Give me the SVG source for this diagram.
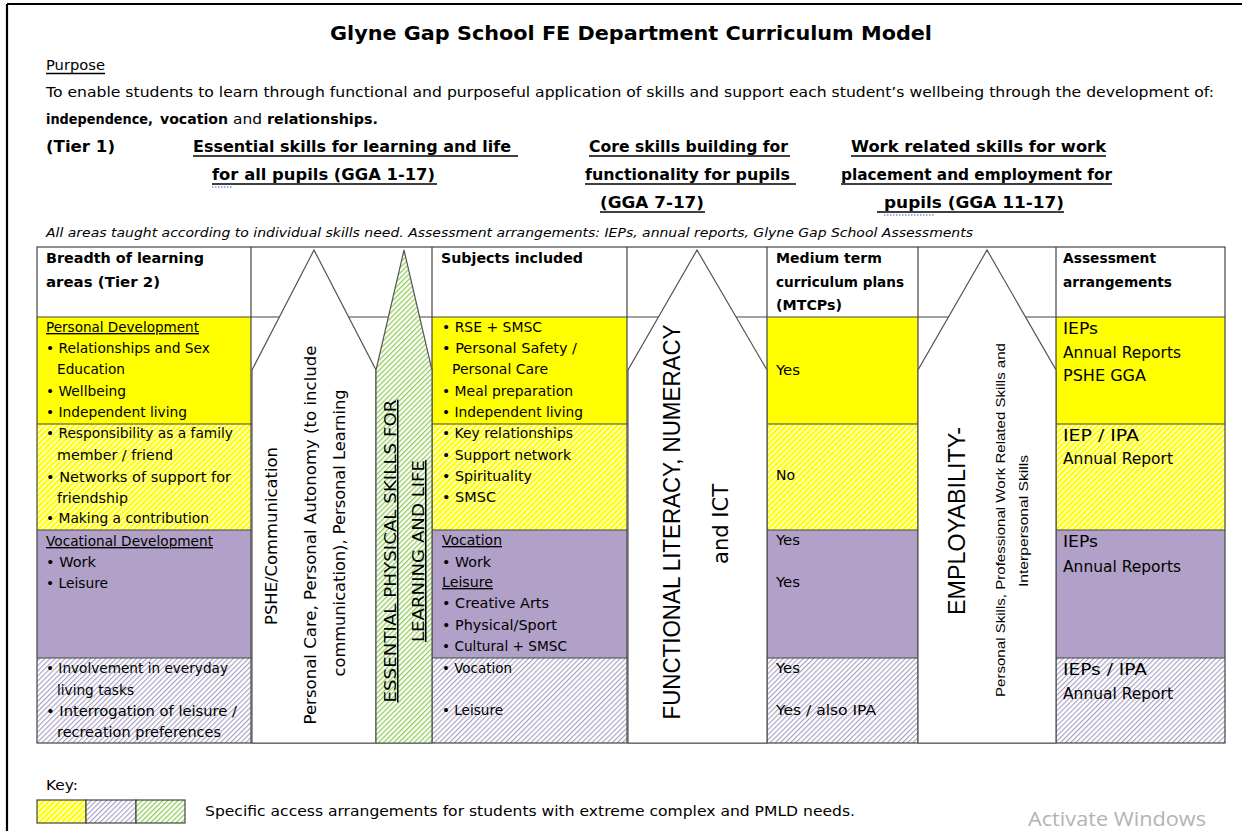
<svg xmlns="http://www.w3.org/2000/svg" width="1242" height="831" viewBox="0 0 1242 831">
<style>
text{font-family:"DejaVu Sans","Noto Sans",sans-serif;fill:#000}
.t{font-size:20px;font-weight:bold}
.p{font-size:14.5px}
.pb{font-size:14.5px;font-weight:bold}
.h{font-size:15px;font-weight:bold}
.s{font-size:12.5px;font-style:italic}
.hd{font-size:14px;font-weight:bold}
.c{font-size:13.5px}
.y{font-size:13.5px}
.a{font-size:15.5px}
.u{text-decoration:underline}
.v{font-size:15px}
.w{font-family:"Liberation Sans","Open Sans",sans-serif}
.grid{stroke:#444;stroke-width:1.2;fill:none}
.arrow{stroke:#555;stroke-width:1.2}
.ul{stroke:#000;stroke-width:1.4}
.sq{stroke:#3f57d6;stroke-width:1.2;stroke-dasharray:1.5 1.5}
</style>
<defs>
<pattern id="hY" width="4" height="4" patternUnits="userSpaceOnUse" patternTransform="rotate(45)"><rect width="4" height="4" fill="#fff"/><rect width="2.5" height="4" fill="#ffff00"/></pattern>
<pattern id="hL" width="3.6" height="3.6" patternUnits="userSpaceOnUse" patternTransform="rotate(45)"><rect width="3.6" height="3.6" fill="#fff"/><rect width="1.1" height="3.6" fill="#a69dc2"/></pattern>
<pattern id="hG" width="3.6" height="3.6" patternUnits="userSpaceOnUse" patternTransform="rotate(45)"><rect width="3.6" height="3.6" fill="#fff"/><rect width="1.3" height="3.6" fill="#93cf5c"/></pattern>
</defs>

<!-- page frame -->
<g id="frame">
<line x1="7" y1="4" x2="1242" y2="4" stroke="#000" stroke-width="2.2"/>
<line x1="7" y1="4" x2="7" y2="831" stroke="#000" stroke-width="2.2"/>
</g>

<g id="title">
<text class="t" x="330" y="40" textLength="602" lengthAdjust="spacingAndGlyphs">Glyne Gap School FE Department Curriculum Model</text>
</g>

<g id="purpose">
<text class="p" x="46" y="70" textLength="59" lengthAdjust="spacingAndGlyphs">Purpose</text>
<line class="ul" x1="46" y1="73.5" x2="105" y2="73.5" stroke-width="1"/>
<text class="p" x="46" y="97" textLength="1168" lengthAdjust="spacingAndGlyphs">To enable students to learn through functional and purposeful application of skills and support each student’s wellbeing through the development of:</text>
<text class="pb" x="46" y="124" textLength="107" lengthAdjust="spacingAndGlyphs">independence,</text>
<text class="pb" x="160" y="124" textLength="68" lengthAdjust="spacingAndGlyphs">vocation</text>
<text class="p" x="233" y="124" textLength="29" lengthAdjust="spacingAndGlyphs">and</text>
<text class="pb" x="267" y="124" textLength="111" lengthAdjust="spacingAndGlyphs">relationships.</text>
</g>

<g id="tier1">
<text class="h" x="46" y="152" textLength="69" lengthAdjust="spacingAndGlyphs">(Tier 1)</text>
<text class="h" x="193" y="152" textLength="318" lengthAdjust="spacingAndGlyphs">Essential skills for learning and life</text>
<line class="ul" x1="193" y1="156" x2="518" y2="156"/>
<text class="h" x="212" y="180" textLength="223" lengthAdjust="spacingAndGlyphs">for all pupils (GGA 1-17)</text>
<line class="ul" x1="212" y1="184" x2="437" y2="184"/>
<line class="sq" x1="212" y1="187" x2="232" y2="187"/>
<text class="h" x="589" y="152" textLength="199" lengthAdjust="spacingAndGlyphs">Core skills building for</text>
<line class="ul" x1="589" y1="156" x2="790" y2="156"/>
<text class="h" x="585" y="180" textLength="205" lengthAdjust="spacingAndGlyphs">functionality for pupils</text>
<line class="ul" x1="585" y1="184" x2="796" y2="184"/>
<text class="h" x="600" y="208" textLength="104" lengthAdjust="spacingAndGlyphs">(GGA 7-17)</text>
<line class="ul" x1="600" y1="212" x2="705" y2="212"/>
<text class="h" x="851" y="152" textLength="255" lengthAdjust="spacingAndGlyphs">Work related skills for work</text>
<line class="ul" x1="851" y1="156" x2="1106" y2="156"/>
<text class="h" x="841" y="180" textLength="271" lengthAdjust="spacingAndGlyphs">placement and employment for</text>
<line class="ul" x1="841" y1="184" x2="1112" y2="184"/>
<text class="h" x="884" y="208" textLength="180" lengthAdjust="spacingAndGlyphs">pupils  (GGA 11-17)</text>
<line class="ul" x1="877" y1="212" x2="1064" y2="212"/>
<line class="sq" x1="884" y1="215" x2="934" y2="215"/>
<text class="s" x="46" y="237" textLength="927" lengthAdjust="spacingAndGlyphs">All areas taught according to individual skills need. Assessment arrangements: IEPs, annual reports, Glyne Gap School Assessments</text>
</g>

<!-- cell backgrounds -->
<g id="cells">
<rect x="37" y="317" width="214" height="107" fill="#ffff00"/>
<rect x="37" y="424" width="214" height="106" fill="url(#hY)"/>
<rect x="37" y="530" width="214" height="128" fill="#b1a0c7"/>
<rect x="37" y="658" width="214" height="85" fill="url(#hL)"/>
<rect x="432" y="317" width="195" height="107" fill="#ffff00"/>
<rect x="432" y="424" width="195" height="106" fill="url(#hY)"/>
<rect x="432" y="530" width="195" height="128" fill="#b1a0c7"/>
<rect x="432" y="658" width="195" height="85" fill="url(#hL)"/>
<rect x="767" y="317" width="151" height="107" fill="#ffff00"/>
<rect x="767" y="424" width="151" height="106" fill="url(#hY)"/>
<rect x="767" y="530" width="151" height="128" fill="#b1a0c7"/>
<rect x="767" y="658" width="151" height="85" fill="url(#hL)"/>
<rect x="1056" y="317" width="169" height="107" fill="#ffff00"/>
<rect x="1056" y="424" width="169" height="106" fill="url(#hY)"/>
<rect x="1056" y="530" width="169" height="128" fill="#b1a0c7"/>
<rect x="1056" y="658" width="169" height="85" fill="url(#hL)"/>
</g>

<g id="grid">
<rect class="grid" x="37" y="247" width="1188" height="496" stroke-width="1.6"/>
<path class="grid" d="M37 317H1225M37 424H1225M37 530H1225M37 658H1225M251 247V743M432 247V743M627 247V743M767 247V743M918 247V743M1056 247V743"/>
</g>

<!-- arrows -->
<g id="arrow-pshe">
<polygon class="arrow" points="252,743 252,370 314,250 376,370 376,743" fill="#fff"/>
<text class="a" transform="translate(277,536) rotate(-90)" text-anchor="middle" textLength="178" lengthAdjust="spacingAndGlyphs">PSHE/Communication</text>
<text class="a" transform="translate(316,535) rotate(-90)" text-anchor="middle" textLength="379" lengthAdjust="spacingAndGlyphs">Personal Care, Personal Autonomy (to include</text>
<text class="a" transform="translate(345,533) rotate(-90)" text-anchor="middle" textLength="287" lengthAdjust="spacingAndGlyphs">communication), Personal Learning</text>
</g>
<g id="arrow-physical">
<polygon class="arrow" points="376,743 376,370 404,250 432,370 432,743" fill="url(#hG)"/>
<text class="v u" transform="translate(396,551) rotate(-90)" text-anchor="middle" textLength="303" lengthAdjust="spacingAndGlyphs">ESSENTIAL PHYSICAL SKILLS FOR</text>
<text class="v u" transform="translate(424,551) rotate(-90)" text-anchor="middle" textLength="182" lengthAdjust="spacingAndGlyphs">LEARNING AND LIFE</text>
</g>
<g id="arrow-functional">
<polygon class="arrow" points="628,743 628,370 697,250 767,370 767,743" fill="#fff"/>
<text class="w" font-size="24" transform="translate(680,522) rotate(-90)" text-anchor="middle" textLength="395" lengthAdjust="spacingAndGlyphs">FUNCTIONAL LITERACY, NUMERACY</text>
<text font-size="22" transform="translate(728,524) rotate(-90)" text-anchor="middle" textLength="80" lengthAdjust="spacingAndGlyphs">and ICT</text>
</g>
<g id="arrow-employability">
<polygon class="arrow" points="918,743 918,370 987,250 1056,370 1056,743" fill="#fff"/>
<text class="w" font-size="24" transform="translate(965,521) rotate(-90)" text-anchor="middle" textLength="188" lengthAdjust="spacingAndGlyphs">EMPLOYABILITY-</text>
<text class="w" font-size="13.5" transform="translate(1005,520) rotate(-90)" text-anchor="middle" textLength="354" lengthAdjust="spacingAndGlyphs">Personal Skills, Professional Work Related Skills and</text>
<text class="w" font-size="13.5" transform="translate(1028,521) rotate(-90)" text-anchor="middle" textLength="132" lengthAdjust="spacingAndGlyphs">Interpersonal Skills</text>
</g>

<!-- column 1 -->
<g id="col-breadth">
<text class="hd" x="46" y="263" textLength="158" lengthAdjust="spacingAndGlyphs">Breadth of learning</text>
<text class="hd" x="46" y="287" textLength="114" lengthAdjust="spacingAndGlyphs">areas (Tier 2)</text>
<text class="c u" x="46" y="332" textLength="153" lengthAdjust="spacingAndGlyphs">Personal Development</text>
<text class="c" x="46" y="353" textLength="164" lengthAdjust="spacingAndGlyphs">• Relationships and Sex</text>
<text class="c" x="57" y="374" textLength="68" lengthAdjust="spacingAndGlyphs">Education</text>
<text class="c" x="46" y="396" textLength="80" lengthAdjust="spacingAndGlyphs">• Wellbeing</text>
<text class="c" x="46" y="417" textLength="141" lengthAdjust="spacingAndGlyphs">• Independent living</text>
<text class="c" x="46" y="438" textLength="187" lengthAdjust="spacingAndGlyphs">• Responsibility as a family</text>
<text class="c" x="57" y="460" textLength="116" lengthAdjust="spacingAndGlyphs">member / friend</text>
<text class="c" x="46" y="482" textLength="185" lengthAdjust="spacingAndGlyphs">• Networks of support for</text>
<text class="c" x="57" y="503" textLength="71" lengthAdjust="spacingAndGlyphs">friendship</text>
<text class="c" x="46" y="523" textLength="163" lengthAdjust="spacingAndGlyphs">• Making a contribution</text>
<text class="c u" x="46" y="546" textLength="167" lengthAdjust="spacingAndGlyphs">Vocational Development</text>
<text class="c" x="46" y="567" textLength="50" lengthAdjust="spacingAndGlyphs">• Work</text>
<text class="c" x="46" y="588" textLength="62" lengthAdjust="spacingAndGlyphs">• Leisure</text>
<text class="c" x="46" y="673" textLength="182" lengthAdjust="spacingAndGlyphs">• Involvement in everyday</text>
<text class="c" x="57" y="695" textLength="77" lengthAdjust="spacingAndGlyphs">living tasks</text>
<text class="c" x="46" y="716" textLength="191" lengthAdjust="spacingAndGlyphs">• Interrogation of leisure /</text>
<text class="c" x="57" y="737" textLength="164" lengthAdjust="spacingAndGlyphs">recreation preferences</text>
</g>

<!-- column 3 -->
<g id="col-subjects">
<text class="hd" x="441" y="263" textLength="142" lengthAdjust="spacingAndGlyphs">Subjects included</text>
<text class="c" x="442" y="332" textLength="100" lengthAdjust="spacingAndGlyphs">• RSE + SMSC</text>
<text class="c" x="442" y="353" textLength="135" lengthAdjust="spacingAndGlyphs">• Personal Safety /</text>
<text class="c" x="452" y="374" textLength="96" lengthAdjust="spacingAndGlyphs">Personal Care</text>
<text class="c" x="442" y="396" textLength="131" lengthAdjust="spacingAndGlyphs">• Meal preparation</text>
<text class="c" x="442" y="417" textLength="141" lengthAdjust="spacingAndGlyphs">• Independent living</text>
<text class="c" x="442" y="438" textLength="131" lengthAdjust="spacingAndGlyphs">• Key relationships</text>
<text class="c" x="442" y="460" textLength="129" lengthAdjust="spacingAndGlyphs">• Support network</text>
<text class="c" x="442" y="481" textLength="90" lengthAdjust="spacingAndGlyphs">• Spirituality</text>
<text class="c" x="442" y="502" textLength="54" lengthAdjust="spacingAndGlyphs">• SMSC</text>
<text class="c u" x="442" y="545" textLength="60" lengthAdjust="spacingAndGlyphs">Vocation</text>
<text class="c" x="442" y="567" textLength="49" lengthAdjust="spacingAndGlyphs">• Work</text>
<text class="c u" x="442" y="587" textLength="51" lengthAdjust="spacingAndGlyphs">Leisure</text>
<text class="c" x="442" y="608" textLength="107" lengthAdjust="spacingAndGlyphs">• Creative Arts</text>
<text class="c" x="442" y="630" textLength="115" lengthAdjust="spacingAndGlyphs">• Physical/Sport</text>
<text class="c" x="442" y="651" textLength="125" lengthAdjust="spacingAndGlyphs">• Cultural + SMSC</text>
<text class="c" x="442" y="673" textLength="70" lengthAdjust="spacingAndGlyphs">• Vocation</text>
<text class="c" x="442" y="715" textLength="61" lengthAdjust="spacingAndGlyphs">• Leisure</text>
</g>

<!-- column 5 -->
<g id="col-mtcp">
<text class="hd" x="776" y="263" textLength="106" lengthAdjust="spacingAndGlyphs">Medium term</text>
<text class="hd" x="776" y="287" textLength="128" lengthAdjust="spacingAndGlyphs">curriculum plans</text>
<text class="hd" x="776" y="310" textLength="66" lengthAdjust="spacingAndGlyphs">(MTCPs)</text>
<text class="y" x="776" y="375" textLength="24" lengthAdjust="spacingAndGlyphs">Yes</text>
<text class="y" x="776" y="480" textLength="19" lengthAdjust="spacingAndGlyphs">No</text>
<text class="y" x="776" y="545" textLength="24" lengthAdjust="spacingAndGlyphs">Yes</text>
<text class="y" x="776" y="587" textLength="24" lengthAdjust="spacingAndGlyphs">Yes</text>
<text class="y" x="776" y="673" textLength="24" lengthAdjust="spacingAndGlyphs">Yes</text>
<text class="y" x="776" y="715" textLength="100" lengthAdjust="spacingAndGlyphs">Yes / also IPA</text>
</g>

<!-- column 7 -->
<g id="col-assessment">
<text class="hd" x="1063" y="263" textLength="93" lengthAdjust="spacingAndGlyphs">Assessment</text>
<text class="hd" x="1063" y="287" textLength="109" lengthAdjust="spacingAndGlyphs">arrangements</text>
<text class="a" x="1063" y="334" textLength="35" lengthAdjust="spacingAndGlyphs">IEPs</text>
<text class="a" x="1063" y="358" textLength="118" lengthAdjust="spacingAndGlyphs">Annual Reports</text>
<text class="a" x="1063" y="381" textLength="83" lengthAdjust="spacingAndGlyphs">PSHE GGA</text>
<text class="a" x="1063" y="441" textLength="76" lengthAdjust="spacingAndGlyphs">IEP / IPA</text>
<text class="a" x="1063" y="464" textLength="110" lengthAdjust="spacingAndGlyphs">Annual Report</text>
<text class="a" x="1063" y="547" textLength="35" lengthAdjust="spacingAndGlyphs">IEPs</text>
<text class="a" x="1063" y="572" textLength="118" lengthAdjust="spacingAndGlyphs">Annual Reports</text>
<text class="a" x="1063" y="675" textLength="84" lengthAdjust="spacingAndGlyphs">IEPs / IPA</text>
<text class="a" x="1063" y="699" textLength="110" lengthAdjust="spacingAndGlyphs">Annual Report</text>
</g>

<!-- key -->
<g id="key">
<text class="p" x="46" y="790" textLength="32" lengthAdjust="spacingAndGlyphs">Key:</text>
<rect x="37" y="800" width="49" height="23" fill="url(#hY)" stroke="#444" stroke-width="1.2"/>
<rect x="86" y="800" width="50" height="23" fill="url(#hL)" stroke="#444" stroke-width="1.2"/>
<rect x="136" y="800" width="49" height="23" fill="url(#hG)" stroke="#444" stroke-width="1.2"/>
<text class="p" x="205" y="816" textLength="650" lengthAdjust="spacingAndGlyphs">Specific access arrangements for students with extreme complex and PMLD needs.</text>
</g>

<g id="watermark">
<text x="1028" y="826" font-size="20" style="fill:#b3b3b3;font-family:'Open Sans','Noto Sans',sans-serif" textLength="178" lengthAdjust="spacingAndGlyphs">Activate Windows</text>
</g>
</svg>
